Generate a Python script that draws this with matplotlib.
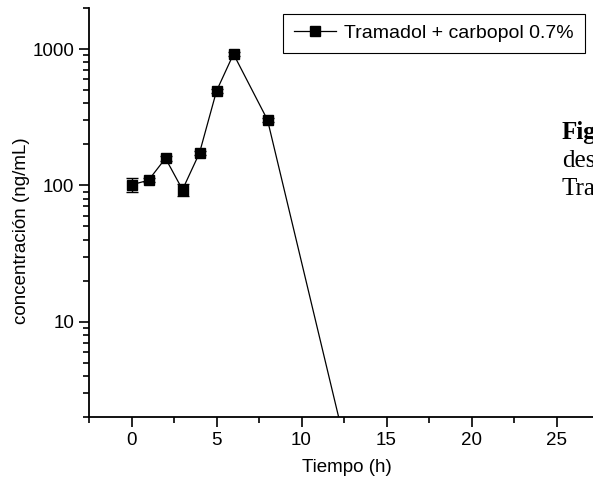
import matplotlib.pyplot as plt

plt.rcParams['font.family'] = ['Liberation Sans', 'DejaVu Sans']

tiempo = [0, 1, 2, 3, 4, 5, 6, 8, 24]
conc = [101, 109, 158, 93, 173, 492, 919, 302, 1.4e-6]
error = [12, 4, 6, 9, 6, 20, 30, 10, 0]
serie = "Tramadol + carbopol 0.7%"
x_ticks = [0, 5, 10, 15, 20, 25]
y_ticks = [10, 100, 1000]

fig = plt.figure(figsize=(5.93, 4.83), dpi=100)
W, H = 593, 483
ax = fig.add_axes([89 / W, (H - 417) / H, 518.5 / W, 409 / H])

ax.errorbar(tiempo, conc, yerr=error, fmt='none', ecolor='black',
            elinewidth=1, capsize=4, capthick=1, zorder=2)
ax.plot(tiempo, conc, color='black', lw=0.9, marker='s', ms=7,
        mfc='black', mec='black', label=serie, zorder=3)

ax.set_yscale('log')
ax.set_xlim(-2.5, 28)
ax.set_ylim(2, 2000)
ax.set_xticks(x_ticks)
ax.set_xticks([-2.5, 2.5, 7.5, 12.5, 17.5, 22.5, 27.5], minor=True)
ax.set_yticks(y_ticks)
ax.set_yticklabels([str(v) for v in y_ticks])
ax.tick_params(which='major', direction='out', length=7, width=1.2, labelsize=13.5)
ax.tick_params(which='minor', direction='out', length=4, width=1.2)
ax.tick_params(axis='y', which='minor', labelleft=False)

for s in ['top', 'right']:
    ax.spines[s].set_visible(False)
for s in ['left', 'bottom']:
    ax.spines[s].set_linewidth(1.3)

fig.text(347 / W, 1 - 468 / H, "Tiempo (h)", ha='center', va='center',
         fontsize=13.5)
fig.text(22 / W, 1 - 231 / H, "concentración (ng/mL)", rotation=90,
         ha='center', va='center', fontsize=13.5)

leg = ax.legend(loc='upper left', bbox_to_anchor=(283 / W, 1 - 14 / H),
                bbox_transform=fig.transFigure, fancybox=False,
                edgecolor='black', framealpha=1, borderaxespad=0, fontsize=14,
                handlelength=2.2, handletextpad=0.4, borderpad=0.55)
leg.get_frame().set_linewidth(0.8)

# texto del pie de figura, cortado por el borde derecho como en el original
fig.text(562 / W, 1 - 139 / H, "Fig", family='Liberation Serif',
         fontweight='bold', fontsize=18, va='baseline')
fig.text(562 / W, 1 - 167 / H, "des", family='Liberation Serif',
         fontsize=18, va='baseline')
fig.text(562 / W, 1 - 195 / H, "Tra", family='Liberation Serif',
         fontsize=18, va='baseline')

fig.savefig("out.png", dpi=100)
